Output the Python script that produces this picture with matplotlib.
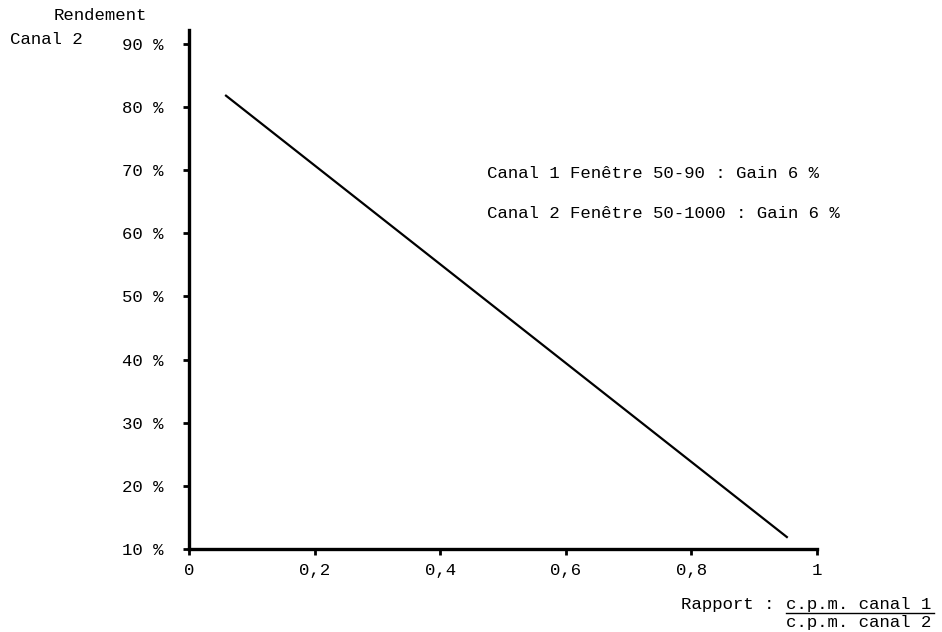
import matplotlib
matplotlib.use("Agg")
import matplotlib.pyplot as plt
from matplotlib.lines import Line2D

plt.rcParams['font.family'] = ['Liberation Mono', 'DejaVu Sans Mono']

# droite de rendement du canal 2 en fonction du rapport canal 1 / canal 2
rapport = [0.059, 0.952]
rendement = [81.8, 11.9]

xticks = [0, 0.2, 0.4, 0.6, 0.8, 1]
xlabels = ["0", "0,2", "0,4", "0,6", "0,8", "1"]
yticks = [10, 20, 30, 40, 50, 60, 70, 80, 90]
ylabels = ["%d %%" % v for v in yticks]

fig = plt.figure(figsize=(9.42, 6.32), dpi=100)
ax = fig.add_axes([0.2006, 0.1313, 0.6667, 0.8212])

ax.plot(rapport, rendement, color="black", lw=1.6)

ax.set_xlim(0, 1)
ax.set_ylim(10, 92.2)
ax.set_xticks(xticks)
ax.set_xticklabels(xlabels, fontsize=12.5)
ax.set_yticks(yticks)
ax.set_yticklabels(ylabels, fontsize=12.5)
ax.tick_params(axis="y", direction="out", length=4, width=2, pad=14)
ax.tick_params(axis="x", direction="out", length=4, width=2, pad=6)

for s in ["top", "right"]:
    ax.spines[s].set_visible(False)
for s in ["left", "bottom"]:
    ax.spines[s].set_linewidth(2.4)
    ax.spines[s].set_capstyle("projecting")

# titre de l'axe vertical
fig.text(100 / 942, 1 - 16 / 632, "Rendement", fontsize=12.5, ha="center", va="center")
fig.text(10 / 942, 1 - 39 / 632, "Canal 2", fontsize=12.5, ha="left", va="center")

# conditions de mesure
fig.text(487 / 942, 1 - 173 / 632, "Canal 1 Fenêtre 50-90 : Gain 6 %", fontsize=12.5, ha="left", va="center")
fig.text(487 / 942, 1 - 213 / 632, "Canal 2 Fenêtre 50-1000 : Gain 6 %", fontsize=12.5, ha="left", va="center")

# titre de l'axe horizontal (fraction)
fig.text(681 / 942, 1 - 604 / 632, "Rapport :", fontsize=12.5, ha="left", va="center")
fig.text(786 / 942, 1 - 604 / 632, "c.p.m. canal 1", fontsize=12.5, ha="left", va="center")
fig.text(786 / 942, 1 - 623 / 632, "c.p.m. canal 2", fontsize=12.5, ha="left", va="center")
fig.add_artist(Line2D([786 / 942, 934 / 942], [1 - 613 / 632, 1 - 613 / 632],
                      transform=fig.transFigure, color="black", lw=1.0))

fig.savefig("out.png", dpi=100)
